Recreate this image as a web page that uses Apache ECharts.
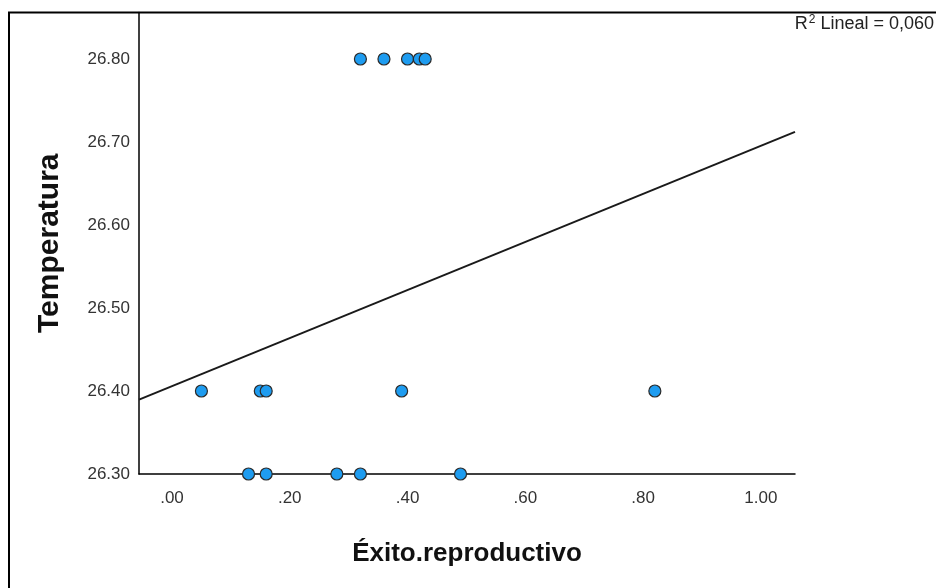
<!DOCTYPE html>
<html>
<head>
<meta charset="utf-8">
<script src="https://cdn.jsdelivr.net/npm/echarts@6/dist/echarts.min.js"></script>
<style>
  html, body { margin: 0; padding: 0; background: #fff; }
  #chart { width: 936px; height: 588px; }
</style>
</head>
<body>
<div id="chart"></div>
<script>
// Éxito reproductivo (x) frente a Temperatura (y), una observación por punto
const exito = [0.32, 0.36, 0.40, 0.42, 0.43, 0.05, 0.15, 0.16, 0.39, 0.82, 0.13, 0.16, 0.28, 0.32, 0.49];
const temperatura = [26.80, 26.80, 26.80, 26.80, 26.80, 26.40, 26.40, 26.40, 26.40, 26.40, 26.30, 26.30, 26.30, 26.30, 26.30];

const xTicks = [0.00, 0.20, 0.40, 0.60, 0.80, 1.00];
const yTicks = [26.30, 26.40, 26.50, 26.60, 26.70, 26.80];

const xTitle = 'Éxito.reproductivo';
const yTitle = 'Temperatura';

const X_MIN = -0.056, X_MAX = 1.058;
const Y_MIN = 26.30, Y_MAX = 26.856;

// Ajuste lineal por mínimos cuadrados
const n = exito.length;
const mx = exito.reduce((s, v) => s + v, 0) / n;
const my = temperatura.reduce((s, v) => s + v, 0) / n;
let sxy = 0, sxx = 0, syy = 0;
for (let i = 0; i < n; i++) {
  const dx = exito[i] - mx, dy = temperatura[i] - my;
  sxy += dx * dy; sxx += dx * dx; syy += dy * dy;
}
const slope = sxy / sxx;
const intercept = my - slope * mx;
const r2 = (sxy * sxy) / (sxx * syy);
const fitLine = [[X_MIN, intercept + slope * X_MIN], [X_MAX, intercept + slope * X_MAX]];

const points = exito.map((x, i) => [x, temperatura[i]]);

const FONT = '"Liberation Sans", Arial, sans-serif';
const chart = echarts.init(document.getElementById('chart'), null, { renderer: 'canvas' });
const tickFont = { fontFamily: FONT, fontSize: 17, color: '#333' };

chart.setOption({
  animation: false,
  backgroundColor: '#fff',
  grid: { left: 139, right: 141, top: 12.5, bottom: 114 },
  xAxis: {
    type: 'value',
    min: X_MIN, max: X_MAX,
    name: xTitle,
    nameLocation: 'middle',
    nameGap: 67,
    nameTextStyle: { fontFamily: FONT, fontSize: 26, fontWeight: 'bold', color: '#111' },
    axisLine: { show: true, onZero: false, lineStyle: { color: '#000', width: 1.5 } },
    axisTick: { show: false },
    splitLine: { show: false },
    axisLabel: {
      customValues: xTicks,
      margin: 16,
      ...tickFont,
      formatter: v => v.toFixed(2).replace(/^0\./, '.')
    }
  },
  yAxis: {
    type: 'value',
    min: Y_MIN, max: Y_MAX,
    name: yTitle,
    nameLocation: 'middle',
    nameRotate: 90,
    nameGap: 74,
    nameTextStyle: { fontFamily: FONT, fontSize: 30, fontWeight: 'bold', color: '#111' },
    axisLine: { show: true, onZero: false, lineStyle: { color: '#000', width: 1.5 } },
    axisTick: { show: false },
    splitLine: { show: false },
    axisLabel: {
      customValues: yTicks,
      margin: 9,
      padding: [4, 0, 0, 0],
      ...tickFont,
      formatter: v => v.toFixed(2)
    }
  },
  series: [
    {
      type: 'line',
      data: fitLine,
      symbol: 'none',
      silent: true,
      lineStyle: { color: '#1a1a1a', width: 2 },
      z: 2
    },
    {
      type: 'scatter',
      data: points,
      symbol: 'circle',
      symbolSize: 12,
      itemStyle: { color: '#1e9cf0', borderColor: '#2a2a2a', borderWidth: 1.2, opacity: 1 },
      z: 3
    }
  ],
  graphic: [
    {
      type: 'rect',
      shape: { x: 9, y: 12.5, width: 2000, height: 2000 },
      style: { fill: null, stroke: '#000', lineWidth: 2 },
      silent: true,
      z: 10
    },
    {
      type: 'text',
      right: 2,
      top: 14,
      style: {
        text: '{b|R}{s|2}{b| Lineal = ' + r2.toFixed(3).replace('.', ',') + '}',
        rich: {
          b: { fontFamily: FONT, fontSize: 18, fill: '#222', verticalAlign: 'bottom' },
          s: { fontFamily: FONT, fontSize: 12, fill: '#222', verticalAlign: 'top', padding: [0, 0, 7, 1] }
        }
      }
    }
  ]
});
</script>
</body>
</html>
